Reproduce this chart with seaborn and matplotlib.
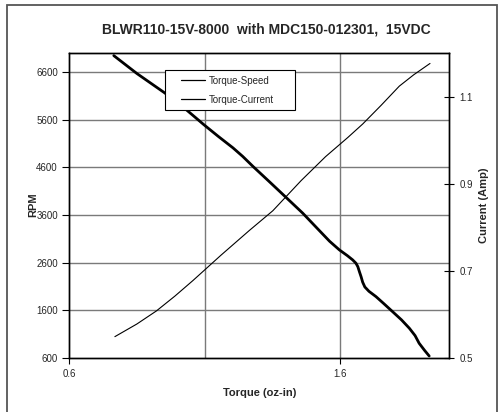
import matplotlib
matplotlib.use("Agg")
import matplotlib.pyplot as plt
import seaborn as sns
import pandas as pd
from matplotlib.patches import Rectangle
from matplotlib.lines import Line2D
from matplotlib.legend_handler import HandlerLine2D

# ---- data ----
torque_speed_x = [0.765, 0.85, 0.953, 1.03, 1.097, 1.15, 1.204, 1.24, 1.278, 1.34,
                  1.395, 1.461, 1.523, 1.56, 1.596, 1.625, 1.645, 1.657, 1.664,
                  1.670, 1.676, 1.682, 1.690, 1.705, 1.731, 1.760, 1.792, 1.825,
                  1.854, 1.875, 1.890, 1.910, 1.927]
speed_rpm = [6945, 6570, 6161, 5820, 5495, 5250, 5010, 4830, 4619, 4290,
             3995, 3640, 3270, 3050, 2869, 2750, 2659, 2590, 2518,
             2410, 2308, 2190, 2090, 2000, 1888, 1740, 1573, 1400,
             1224, 1070, 909, 760, 642]

torque_cur_x = [0.769, 0.85, 0.922, 0.99, 1.057, 1.16, 1.265, 1.351, 1.455, 1.545,
                1.627, 1.682, 1.750, 1.817, 1.87, 1.930]
current_amp = [0.549, 0.578, 0.608, 0.642, 0.678, 0.736, 0.793, 0.838, 0.907, 0.962,
               1.006, 1.037, 1.080, 1.124, 1.150, 1.176]

left_ticks = [600, 1600, 2600, 3600, 4600, 5600, 6600]
right_ticks = [0.5, 0.7, 0.9, 1.1]
x_ticks = [0.6, 1.6]
x_grid = [1.1, 1.6]

title = "BLWR110-15V-8000  with MDC150-012301,  15VDC"

sns.set_theme(style="white")
plt.rcParams['font.family'] = ['Liberation Sans', 'DejaVu Sans']

fig = plt.figure(figsize=(5.0, 4.12), dpi=100)
ax = fig.add_axes([69/500, 1-358/412, 380/500, 305/412])
ax2 = ax.twinx()

df_s = pd.DataFrame({"Torque": torque_speed_x, "RPM": speed_rpm})
df_c = pd.DataFrame({"Torque": torque_cur_x, "Current": current_amp})

sns.lineplot(data=df_s, x="Torque", y="RPM", ax=ax, color="black", lw=2.0,
             sort=False, estimator=None, label="Torque-Speed", legend=False, zorder=3)
sns.lineplot(data=df_c, x="Torque", y="Current", ax=ax2, color="black", lw=0.8,
             sort=False, estimator=None, label="Torque-Current", legend=False, zorder=3)
for ln in ax.lines + ax2.lines:
    ln.set_solid_joinstyle("round")

ax.set_xlim(0.6, 2.0)
ax.set_ylim(600, 7000)
ax2.set_ylim(0.5, 1.2)

ax.set_xticks(x_ticks)
ax.set_xticklabels([f"{v:.1f}" for v in x_ticks])
ax.set_yticks(left_ticks)
ax.set_yticklabels([str(v) for v in left_ticks])
ax2.set_yticks(right_ticks)
ax2.set_yticklabels([f"{v:.1f}" for v in right_ticks])

# gridlines
for y in left_ticks[1:]:
    ax.axhline(y, color="#7a7a7a", lw=1.0, zorder=1)
for x in x_grid:
    ax.axvline(x, color="#7a7a7a", lw=1.0, zorder=1)

for a in (ax, ax2):
    for s in a.spines.values():
        s.set_color("black")
        s.set_linewidth(1.0)
    a.grid(False)

ax.tick_params(axis="y", which="major", direction="out", length=5, width=0.8,
               color="black", labelsize=7, pad=3, left=True)
ax.tick_params(axis="x", which="major", direction="out", length=4, width=0.8,
               color="black", labelsize=7, pad=4, bottom=True)
ax2.tick_params(axis="y", which="major", direction="inout", length=7, width=0.8,
                color="black", labelsize=7, pad=4, right=True)

ax.set_xlabel("")
ax.set_ylabel("")
ax2.set_ylabel("")

fig.text(266/500, 1-30/412, title, ha="center", va="center",
         fontsize=10, fontweight="bold")
fig.text(33/500, 1-205/412, "RPM", ha="center", va="center", rotation=90,
         fontsize=8, fontweight="bold")
fig.text(484/500, 1-205/412, "Current (Amp)", ha="center", va="center",
         rotation=90, fontsize=8, fontweight="bold")
fig.text(260/500, 1-393/412, "Torque (oz-in)", ha="center", va="center",
         fontsize=8, fontweight="bold")

# legend
handles = [Line2D([], [], color="black", lw=0.9), Line2D([], [], color="black", lw=0.9)]
leg = ax2.legend(handles, ["Torque-Speed", "Torque-Current"],
                 loc="upper left", bbox_to_anchor=(165/500, 1-109/412, 130/500, 39/412),
                 bbox_transform=fig.transFigure, mode="expand", fontsize=7,
                 frameon=True, fancybox=False, framealpha=1.0, handlelength=3.5,
                 handletextpad=0.4, borderpad=0.6, labelspacing=0.9, borderaxespad=0,
                 handler_map={Line2D: HandlerLine2D(xpad=1.0)})
leg.get_frame().set_edgecolor("black")
leg.get_frame().set_facecolor("white")
leg.get_frame().set_linewidth(0.8)
leg.set_zorder(5)

# outer chart border
fig.patches.append(Rectangle((7/500, -0.1), 490/500, 1-5/412+0.1,
                             transform=fig.transFigure, fill=False,
                             edgecolor="#555555", lw=1.3))

fig.savefig("out.png", dpi=100)
